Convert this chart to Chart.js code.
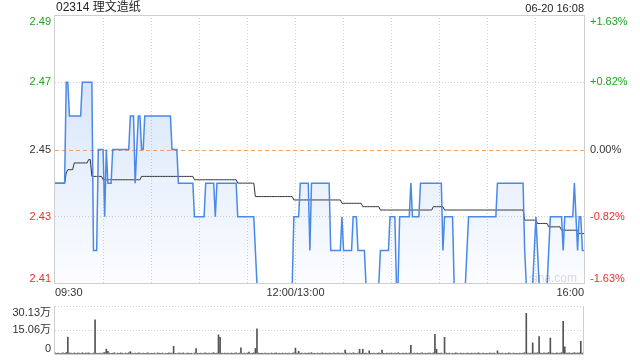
<!DOCTYPE html>
<html>
<head>
<meta charset="utf-8">
<script src="https://cdn.jsdelivr.net/npm/chart.js@4.4.1/dist/chart.umd.min.js"></script>
<style>
html, body { margin: 0; padding: 0; background: #fff; }
#wrap { position: relative; width: 640px; height: 360px; }
#main { position: absolute; left: 0; top: 0; }
#vol { position: absolute; left: 0; top: 300px; }
</style>
</head>
<body>
<div id="wrap">
    <canvas id="main" width="640" height="300"></canvas>
    <canvas id="vol" width="640" height="60"></canvas>
</div>
<script>
//Cabeçalho
var stockName = "02314 理文造纸";
var stamp = "06-20 16:08";
var prevClose = 2.45;

//Eixos
var xLabels = ["09:30", "12:00/13:00", "16:00"];
var xLabelMinutes = [0, 150, 330];
var yTicks = [2.49, 2.47, 2.45, 2.43, 2.41];
var pctLabels = ["+1.63%", "+0.82%", "0.00%", "-0.82%", "-1.63%"];
var volTicks = [30.13, 15.06, 0];
var volLabels = ["30.13万", "15.06万", "0"];

//Preço por minuto (09:30 -> 16:00)
var prices = [
    2.44, 2.44, 2.44, 2.44, 2.44, 2.44, 2.44, 2.47, 2.47, 2.46,
    2.46, 2.46, 2.46, 2.46, 2.46, 2.46, 2.46, 2.47, 2.47, 2.47,
    2.47, 2.47, 2.47, 2.47, 2.42, 2.42, 2.42, 2.45, 2.45, 2.45,
    2.45, 2.43, 2.45, 2.44, 2.44, 2.44, 2.45, 2.45, 2.45, 2.45,
    2.45, 2.45, 2.45, 2.45, 2.45, 2.45, 2.45, 2.46, 2.46, 2.46,
    2.44, 2.45, 2.46, 2.46, 2.45, 2.45, 2.46, 2.46, 2.46, 2.46,
    2.46, 2.46, 2.46, 2.46, 2.46, 2.46, 2.46, 2.46, 2.46, 2.46,
    2.46, 2.46, 2.46, 2.45, 2.45, 2.45, 2.45, 2.44, 2.44, 2.44,
    2.44, 2.44, 2.44, 2.44, 2.44, 2.44, 2.44, 2.43, 2.43, 2.43,
    2.43, 2.43, 2.43, 2.43, 2.44, 2.44, 2.44, 2.44, 2.44, 2.44,
    2.43, 2.44, 2.44, 2.44, 2.44, 2.44, 2.44, 2.44, 2.44, 2.44,
    2.44, 2.44, 2.44, 2.44, 2.43, 2.43, 2.43, 2.43, 2.43, 2.43,
    2.43, 2.43, 2.43, 2.43, 2.43, 2.42, 2.41, 2.41, 2.41, 2.41,
    2.41, 2.41, 2.41, 2.41, 2.41, 2.41, 2.41, 2.41, 2.41, 2.41,
    2.41, 2.41, 2.41, 2.41, 2.41, 2.41, 2.41, 2.41, 2.41, 2.43,
    2.43, 2.43, 2.43, 2.44, 2.44, 2.44, 2.44, 2.44, 2.44, 2.42,
    2.44, 2.44, 2.44, 2.44, 2.44, 2.44, 2.44, 2.44, 2.44, 2.44,
    2.44, 2.44, 2.42, 2.42, 2.42, 2.42, 2.42, 2.42, 2.42, 2.43,
    2.42, 2.42, 2.42, 2.42, 2.42, 2.42, 2.43, 2.43, 2.43, 2.42,
    2.42, 2.42, 2.42, 2.42, 2.41, 2.41, 2.41, 2.41, 2.41, 2.41,
    2.41, 2.41, 2.41, 2.42, 2.42, 2.42, 2.42, 2.42, 2.42, 2.43,
    2.43, 2.43, 2.43, 2.41, 2.41, 2.43, 2.43, 2.43, 2.43, 2.43,
    2.43, 2.43, 2.44, 2.43, 2.43, 2.43, 2.43, 2.43, 2.44, 2.44,
    2.44, 2.44, 2.44, 2.44, 2.44, 2.44, 2.44, 2.44, 2.44, 2.44,
    2.44, 2.44, 2.42, 2.43, 2.43, 2.43, 2.43, 2.43, 2.43, 2.41,
    2.41, 2.41, 2.41, 2.41, 2.41, 2.41, 2.41, 2.42, 2.43, 2.43,
    2.43, 2.43, 2.43, 2.43, 2.43, 2.43, 2.43, 2.43, 2.43, 2.43,
    2.43, 2.43, 2.43, 2.43, 2.43, 2.43, 2.44, 2.44, 2.44, 2.44,
    2.44, 2.44, 2.44, 2.44, 2.44, 2.44, 2.44, 2.44, 2.44, 2.44,
    2.44, 2.44, 2.44, 2.42, 2.41, 2.41, 2.41, 2.41, 2.41, 2.42,
    2.43, 2.42, 2.41, 2.41, 2.41, 2.41, 2.41, 2.41, 2.42, 2.43,
    2.43, 2.43, 2.43, 2.43, 2.43, 2.43, 2.43, 2.42, 2.43, 2.43,
    2.43, 2.43, 2.43, 2.43, 2.44, 2.43, 2.42, 2.43, 2.43, 2.42,
    2.42
];

//Preço médio
var avgPrices = [
    2.440, 2.440, 2.440, 2.440, 2.440, 2.440, 2.440, 2.443, 2.444, 2.444,
    2.444, 2.444, 2.446, 2.446, 2.446, 2.446, 2.446, 2.446, 2.446, 2.446,
    2.446, 2.447, 2.447, 2.442, 2.442, 2.442, 2.442, 2.442, 2.442, 2.442,
    2.441, 2.441, 2.441, 2.441, 2.441, 2.441, 2.441, 2.441, 2.441, 2.441,
    2.441, 2.441, 2.441, 2.441, 2.441, 2.441, 2.441, 2.441, 2.441, 2.441,
    2.441, 2.441, 2.441, 2.441, 2.442, 2.442, 2.442, 2.442, 2.442, 2.442,
    2.442, 2.442, 2.442, 2.442, 2.442, 2.442, 2.442, 2.442, 2.442, 2.442,
    2.442, 2.442, 2.442, 2.442, 2.442, 2.442, 2.442, 2.442, 2.442, 2.442,
    2.442, 2.442, 2.442, 2.442, 2.442, 2.442, 2.442, 2.441, 2.441, 2.441,
    2.441, 2.441, 2.441, 2.441, 2.441, 2.441, 2.441, 2.441, 2.441, 2.441,
    2.441, 2.441, 2.441, 2.441, 2.441, 2.441, 2.441, 2.441, 2.441, 2.441,
    2.441, 2.441, 2.441, 2.441, 2.440, 2.440, 2.440, 2.440, 2.440, 2.440,
    2.440, 2.440, 2.440, 2.440, 2.440, 2.436, 2.436, 2.436, 2.436, 2.436,
    2.436, 2.436, 2.436, 2.436, 2.436, 2.436, 2.436, 2.436, 2.436, 2.436,
    2.436, 2.436, 2.436, 2.436, 2.436, 2.436, 2.436, 2.436, 2.436, 2.435,
    2.435, 2.435, 2.435, 2.435, 2.435, 2.435, 2.435, 2.435, 2.435, 2.435,
    2.435, 2.435, 2.435, 2.435, 2.435, 2.435, 2.435, 2.435, 2.435, 2.435,
    2.435, 2.435, 2.435, 2.435, 2.435, 2.435, 2.435, 2.435, 2.435, 2.434,
    2.434, 2.434, 2.434, 2.434, 2.434, 2.434, 2.434, 2.434, 2.434, 2.434,
    2.434, 2.434, 2.433, 2.433, 2.433, 2.433, 2.433, 2.433, 2.433, 2.433,
    2.433, 2.433, 2.433, 2.432, 2.432, 2.432, 2.432, 2.432, 2.432, 2.432,
    2.432, 2.432, 2.432, 2.432, 2.432, 2.432, 2.432, 2.432, 2.432, 2.432,
    2.432, 2.432, 2.432, 2.432, 2.432, 2.432, 2.432, 2.432, 2.432, 2.432,
    2.432, 2.432, 2.432, 2.432, 2.432, 2.432, 2.433, 2.433, 2.433, 2.433,
    2.433, 2.433, 2.433, 2.432, 2.432, 2.432, 2.432, 2.432, 2.432, 2.432,
    2.432, 2.432, 2.432, 2.432, 2.432, 2.432, 2.432, 2.432, 2.432, 2.432,
    2.432, 2.432, 2.432, 2.432, 2.432, 2.432, 2.432, 2.432, 2.432, 2.432,
    2.432, 2.432, 2.432, 2.432, 2.432, 2.432, 2.432, 2.432, 2.432, 2.432,
    2.432, 2.432, 2.432, 2.432, 2.432, 2.432, 2.432, 2.432, 2.432, 2.432,
    2.432, 2.432, 2.432, 2.429, 2.429, 2.429, 2.429, 2.429, 2.429, 2.429,
    2.429, 2.428, 2.428, 2.428, 2.428, 2.428, 2.428, 2.428, 2.427, 2.427,
    2.427, 2.427, 2.427, 2.427, 2.427, 2.427, 2.426, 2.426, 2.426, 2.426,
    2.426, 2.426, 2.426, 2.426, 2.426, 2.426, 2.426, 2.425, 2.425, 2.425,
    2.425
];

//Volume (万股)
var volumes = [
    0.8, 0.4, 0.6, 0.3, 0.5, 0.7, 0.4, 0.9, 10.6, 0.6,
    0.5, 0.3, 0.7, 0.4, 0.6, 0.5, 0.3, 0.8, 0.4, 0.6,
    0.5, 0.7, 0.4, 0.3, 0.6, 21.5, 0.5, 0.4, 0.6, 0.3,
    0.7, 0.9, 3.0, 1.7, 0.6, 0.4, 0.5, 0.8, 0.3, 0.6,
    0.4, 0.7, 0.5, 0.3, 0.6, 0.4, 0.8, 1.5, 0.5, 0.3,
    0.6, 0.4, 0.7, 0.5, 0.3, 0.6, 0.4, 0.5, 0.8, 0.3,
    0.5, 0.4, 0.6, 0.3, 0.7, 0.5, 0.4, 0.6, 0.3, 0.5,
    0.4, 0.7, 0.5, 0.6, 4.8, 0.4, 0.3, 0.6, 0.5, 0.4,
    0.7, 0.3, 0.5, 0.6, 0.4, 0.5, 0.3, 0.6, 3.4, 0.5,
    0.4, 0.6, 0.3, 0.5, 0.7, 0.4, 0.6, 0.3, 0.5, 0.8,
    0.4, 0.6, 12.0, 10.5, 0.5, 0.3, 0.6, 0.4, 0.5, 0.3,
    0.6, 0.4, 0.5, 0.7, 0.3, 0.6, 3.8, 0.4, 0.5, 0.3,
    0.6, 1.2, 0.4, 0.5, 0.7, 3.5, 15.8, 0.6, 0.4, 0.5,
    0.3, 0.6, 0.4, 0.5, 0.3, 0.6, 0.4, 0.5, 0.7, 0.3,
    0.5, 0.4, 0.6, 0.3, 0.5, 0.4, 0.6, 0.3, 0.5, 0.7,
    3.7, 0.5, 1.7, 0.4, 0.6, 0.3, 0.5, 0.4, 0.6, 0.5,
    0.8, 0.4, 0.5, 0.3, 0.6, 0.4, 0.5, 0.7, 0.3, 0.5,
    0.4, 0.6, 0.5, 0.3, 0.7, 0.4, 0.5, 0.6, 0.3, 0.5,
    0.4, 2.5, 0.6, 0.3, 0.5, 0.4, 0.7, 0.5, 0.3, 0.6,
    3.0, 0.5, 3.0, 0.4, 0.6, 0.3, 2.0, 0.5, 0.4, 0.6,
    0.3, 0.5, 0.7, 0.4, 2.5, 0.5, 0.3, 0.6, 0.4, 0.5,
    0.6, 0.3, 0.5, 0.4, 0.7, 0.5, 0.3, 0.6, 0.4, 0.5,
    0.3, 0.6, 5.5, 0.4, 0.5, 0.3, 0.6, 0.4, 0.5, 0.7,
    0.3, 0.5, 0.4, 0.6, 0.5, 0.3, 0.7, 12.3, 3.0, 0.5,
    0.4, 0.6, 0.3, 10.5, 0.5, 0.4, 0.6, 0.3, 0.5, 0.4,
    0.7, 0.5, 0.3, 0.6, 0.4, 0.5, 0.3, 0.6, 0.5, 0.4,
    0.6, 0.3, 0.5, 0.4, 0.7, 0.5, 0.3, 0.6, 0.4, 0.5,
    0.3, 0.6, 0.5, 0.4, 0.6, 0.3, 2.0, 0.5, 0.4, 0.6,
    0.3, 0.5, 0.4, 0.7, 0.5, 0.3, 0.6, 0.4, 0.5, 0.3,
    0.6, 0.4, 0.5, 0.8, 25.5, 0.6, 0.4, 0.5, 7.0, 0.6,
    0.5, 0.8, 11.0, 0.6, 0.4, 0.7, 0.5, 0.6, 0.9, 10.0,
    0.6, 0.5, 0.4, 0.7, 0.5, 0.6, 0.8, 20.5, 4.5, 0.6,
    0.5, 0.7, 0.4, 0.6, 0.8, 0.5, 0.6, 0.7, 8.0, 0.6,
    0.9
];

var font11 = '11px "Liberation Sans", Arial, "Noto Sans CJK SC", sans-serif';
var font12 = '12px "Liberation Sans", Arial, "Noto Sans CJK SC", sans-serif';
var green = '#1ea51e';
var red = '#f02c2c';
var frameColor = '#cfcfcf';
var dotColor = '#d2d2d2';

function colorFor(v) {
    if (Math.abs(v - prevClose) < 0.0001) return '#333';
    return v > prevClose ? green : red;
}

function near(a, b) {
    return Math.abs(a - b) < 0.0001;
}

// moldura, linha de fechamento e textos
var mainDecor = {
    id: 'mainDecor',
    beforeDatasetsDraw: function(chart) {
        var c = chart.ctx, a = chart.chartArea;
        var y = Math.round(chart.scales.y.getPixelForValue(prevClose)) + 0.5;
        c.save();
        c.strokeStyle = '#f2a36c';
        c.lineWidth = 1;
        c.setLineDash([4, 3]);
        c.beginPath();
        c.moveTo(a.left, y);
        c.lineTo(a.right, y);
        c.stroke();
        c.restore();
    },
    afterDraw: function(chart) {
        var c = chart.ctx, a = chart.chartArea;
        var ys = chart.scales.y, xs = chart.scales.x;
        c.save();
        c.strokeStyle = frameColor;
        c.lineWidth = 1;
        c.strokeRect(Math.round(a.left) - 0.5, Math.round(a.top) + 0.5, Math.round(a.right - a.left) + 1, Math.round(a.bottom - a.top) - 1);

        //sina.com
        c.font = font12;
        c.fillStyle = 'rgba(0,0,0,0.14)';
        c.textAlign = 'center';
        c.textBaseline = 'middle';
        c.fillText('sina.com', 553, 279);

        c.font = font11;
        for (var i = 0; i < yTicks.length; i++) {
            var py = ys.getPixelForValue(yTicks[i]);
            if (i == 0) { c.textBaseline = 'top'; py += 1; }
            else if (i == yTicks.length - 1) { c.textBaseline = 'bottom'; }
            else { c.textBaseline = 'middle'; }
            c.fillStyle = colorFor(yTicks[i]);
            c.textAlign = 'right';
            c.fillText(yTicks[i].toFixed(2), a.left - 4, py);
            c.textAlign = 'left';
            c.fillText(pctLabels[i], a.right + 6, py);
        }

        c.fillStyle = '#333';
        c.textBaseline = 'middle';
        var aligns = ['left', 'center', 'right'];
        for (var j = 0; j < xLabels.length; j++) {
            c.textAlign = aligns[j];
            c.fillText(xLabels[j], xs.getPixelForValue(xLabelMinutes[j]), 293);
        }

        c.font = font12;
        c.textAlign = 'left';
        c.fillStyle = '#222';
        c.fillText(stockName, a.left + 1, 8);
        c.font = font11;
        c.textAlign = 'right';
        c.fillText(stamp, a.right, 9);
        c.restore();
    }
};

var mainChart = new Chart(document.getElementById('main'), {
    type: 'line',
    data: {
        datasets: [
            {
                label: '价格',
                data: prices.map(function(v, i) { return { x: i, y: v }; }),
                borderColor: 'rgb(74,137,232)',
                borderWidth: 1.5,
                pointRadius: 0,
                tension: 0,
                fill: 'start',
                order: 0,
                backgroundColor: function(ctx) {
                    var a = ctx.chart.chartArea;
                    if (!a) return 'rgba(74,137,232,0.1)';
                    var g = ctx.chart.ctx.createLinearGradient(0, a.top, 0, a.bottom);
                    g.addColorStop(0, 'rgba(74,137,232,0.28)');
                    g.addColorStop(1, 'rgba(74,137,232,0.02)');
                    return g;
                }
            },
            {
                label: '均价',
                data: avgPrices.map(function(v, i) { return { x: i, y: v }; }),
                borderColor: '#333',
                borderWidth: 1,
                pointRadius: 0,
                tension: 0,
                fill: false,
                order: 1
            }
        ]
    },
    options: {
        responsive: false,
        animation: false,
        events: [],
        layout: { padding: { top: 15, left: 0, right: 0, bottom: 0 } },
        plugins: {
            legend: { display: false },
            tooltip: { enabled: false },
            filler: { drawTime: 'beforeDatasetsDraw' }
        },
        scales: {
            x: {
                type: 'linear',
                min: 0,
                max: 330,
                ticks: { display: false, stepSize: 30 },
                grid: {
                    drawTicks: false,
                    color: function(ctx) {
                        var v = ctx.tick.value;
                        return (v <= 0 || v >= 330) ? 'rgba(0,0,0,0)' : dotColor;
                    }
                },
                border: { display: false, dash: [1, 2] },
                afterFit: function(s) { s.height = 16; }
            },
            y: {
                position: 'left',
                min: 2.41,
                max: 2.49,
                ticks: { display: false, stepSize: 0.02 },
                grid: {
                    drawTicks: false,
                    color: function(ctx) {
                        var v = ctx.tick.value;
                        return (near(v, 2.47) || near(v, 2.43)) ? dotColor : 'rgba(0,0,0,0)';
                    }
                },
                border: { display: false, dash: [1, 2] },
                afterFit: function(s) { s.width = 55; }
            },
            y2: {
                position: 'right',
                min: -1.63,
                max: 1.63,
                ticks: { display: false },
                grid: { display: false },
                border: { display: false },
                afterFit: function(s) { s.width = 56; }
            }
        }
    },
    plugins: [mainDecor]
});

// painel de volume
var volDecor = {
    id: 'volDecor',
    afterDraw: function(chart) {
        var c = chart.ctx, a = chart.chartArea, ys = chart.scales.y;
        var l = Math.round(a.left) - 0.5, r = Math.round(a.right) - 0.5;
        var t = Math.round(a.top), b = Math.round(a.bottom) + 0.5;
        c.save();
        c.strokeStyle = frameColor;
        c.lineWidth = 1;
        c.beginPath();
        c.moveTo(l, t); c.lineTo(l, b);
        c.lineTo(r, b); c.lineTo(r, t);
        c.stroke();

        c.font = font11;
        c.fillStyle = '#333';
        c.textAlign = 'right';
        for (var i = 0; i < volTicks.length; i++) {
            var py = ys.getPixelForValue(volTicks[i]);
            if (i == 0) { c.textBaseline = 'top'; py += 1; }
            else if (i == volTicks.length - 1) { c.textBaseline = 'bottom'; }
            else { c.textBaseline = 'middle'; }
            c.fillText(volLabels[i], a.left - 4, py);
        }
        c.restore();
    }
};

var volChart = new Chart(document.getElementById('vol'), {
    type: 'bar',
    data: {
        datasets: [{
            label: '成交量',
            data: volumes.map(function(v, i) { return { x: i, y: v }; }),
            backgroundColor: '#555',
            barThickness: 1
        }]
    },
    options: {
        responsive: false,
        animation: false,
        events: [],
        layout: { padding: { top: 6, right: 56, bottom: 6, left: 0 } },
        plugins: {
            legend: { display: false },
            tooltip: { enabled: false }
        },
        scales: {
            x: {
                type: 'linear',
                min: 0,
                max: 330,
                offset: false,
                display: false
            },
            y: {
                min: 0,
                max: 30.13,
                afterBuildTicks: function(s) {
                    s.ticks = volTicks.map(function(v) { return { value: v }; });
                },
                ticks: { display: false },
                grid: {
                    drawTicks: false,
                    color: function(ctx) {
                        return ctx.tick.value > 0 ? dotColor : 'rgba(0,0,0,0)';
                    }
                },
                border: { display: false, dash: [1, 2] },
                afterFit: function(s) { s.width = 55; }
            }
        }
    },
    plugins: [volDecor]
});
</script>
</body>
</html>
